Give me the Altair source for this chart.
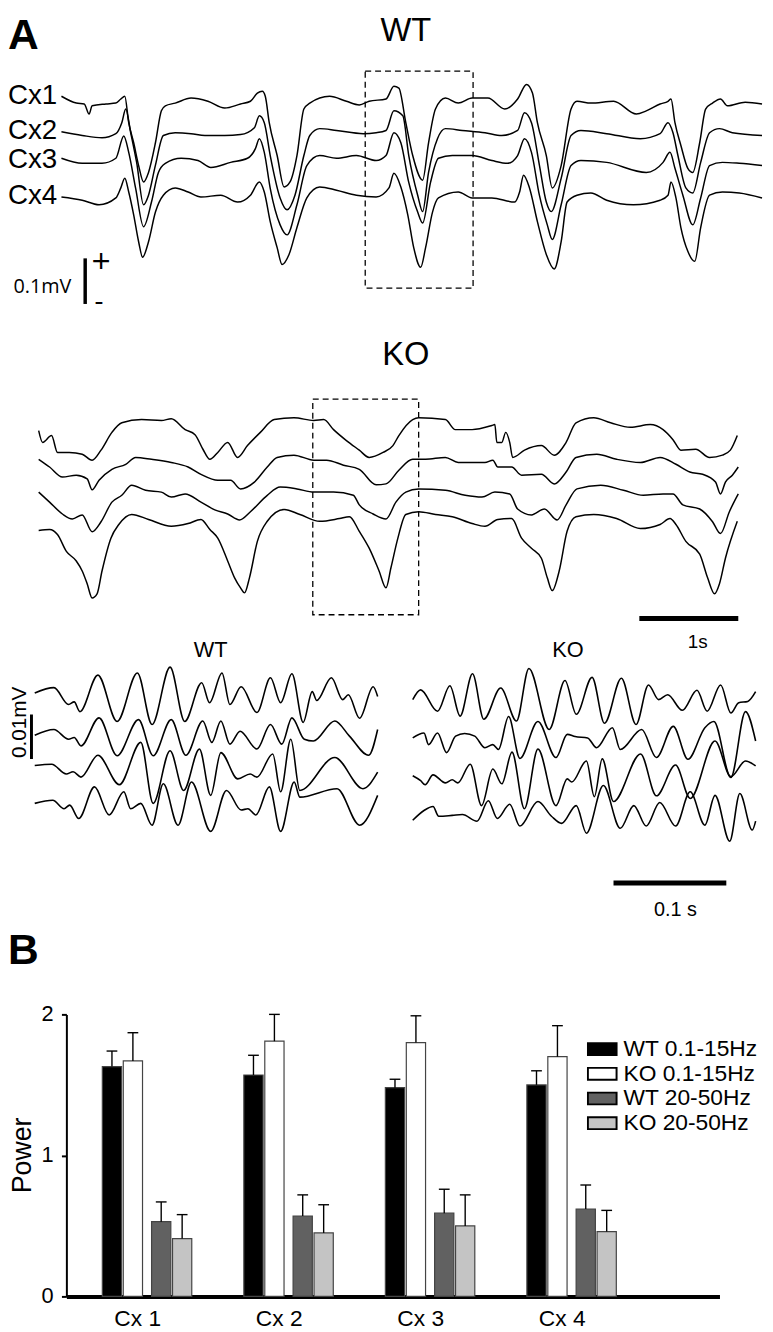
import altair as alt
import pandas as pd

FONT = "Liberation Sans"
FONT2 = "Open Sans"

# ---------------------------------------------------------------- data
channels = ["Cx1", "Cx2", "Cx3", "Cx4"]

# WT overview traces: time (ms) and potential (uV, relative to channel baseline)
wt_cx1_t = [0, 150, 230, 280, 310, 450, 550, 600, 640, 680, 730, 780, 830, 880, 950, 1010, 1050, 1150, 1310, 1480,
            1650, 1810, 1910, 1980, 2030, 2060, 2100, 2180, 2250, 2310, 2380, 2450, 2510, 2710, 2880, 3010, 3110, 3280,
            3360, 3410, 3480, 3550, 3650, 3710, 3780, 3880, 4010, 4150, 4310, 4480, 4610, 4700, 4760, 4810, 4900, 4960,
            5050, 5150, 5210, 5350, 5580, 5810, 5910, 6050, 6130, 6160, 6200, 6260, 6330, 6380, 6450, 6510, 6580, 6660,
            6730, 6910, 7080]
wt_cx1_v = [4, -11, -13, -35, -17, -13, -11, -2, 4, -54, -98, -148, -184, -163, -98, -28, -17, -11, 0, -7,
            -22, -13, -7, 11, 15, 4, -54, -126, -195, -184, -126, -24, -11, 4, -7, -15, -7, -2,
            26, 22, -54, -126, -180, -98, -24, 0, -11, 0, 0, -24, -2, 30, 11, -54, -126, -197,
            -148, -24, -7, -11, -7, -35, -28, -13, -7, -2, -54, -104, -154, -163, -98, -24, -11, -2,
            -17, -9, -13]
wt_cx2_t = [0, 210, 410, 550, 610, 650, 700, 760, 830, 880, 950, 1030, 1150, 1310, 1450, 1650, 1810, 1950, 2000, 2050,
            2110, 2210, 2280, 2360, 2450, 2510, 2610, 2780, 3050, 3180, 3280, 3360, 3450, 3510, 3600, 3650, 3710, 3800,
            3880, 4050, 4280, 4450, 4610, 4680, 4750, 4830, 4900, 4950, 5050, 5150, 5250, 5510, 5850, 6050, 6130, 6180,
            6230, 6310, 6380, 6460, 6550, 6650, 6780, 7080]
wt_cx2_v = [4, -4, -9, 0, 24, 54, 2, -63, -156, -135, -69, -4, 2, 0, -4, -4, -2, 13, 39, 24,
            -48, -141, -167, -135, -48, -4, 11, 7, 0, 2, 7, 50, 39, -48, -135, -171, -85, -11,
            11, 7, 2, -4, 7, 46, 24, -69, -150, -171, -98, -4, 7, 0, -11, 0, 24, 2,
            -48, -119, -130, -63, 2, 11, 2, -4]
wt_cx3_t = [0, 210, 410, 550, 630, 680, 750, 830, 910, 980, 1050, 1210, 1380, 1510, 1710, 1880, 1960, 2000, 2050, 2110,
            2210, 2280, 2380, 2480, 2610, 2780, 2980, 3180, 3280, 3360, 3430, 3510, 3600, 3650, 3730, 3810, 3950, 4150,
            4350, 4510, 4610, 4680, 4750, 4830, 4910, 4960, 5050, 5150, 5250, 5510, 5910, 6080, 6150, 6200, 6280, 6380,
            6460, 6550, 6680, 6850, 7080]
wt_cx3_v = [7, -4, -4, 7, 56, 20, -59, -143, -89, -24, -4, 7, 2, -13, -2, 7, 28, 50, 20, -59,
            -139, -161, -95, -9, 13, 7, 13, 2, 13, 63, 41, -46, -111, -135, -46, 7, 13, 13,
            2, -4, 13, 50, 20, -74, -139, -171, -95, -9, 2, -2, -24, -2, 20, -15, -74, -139,
            -80, -9, -2, -4, -9]
wt_cx4_t = [0, 210, 380, 550, 600, 640, 680, 730, 780, 820, 880, 950, 1030, 1150, 1280, 1410, 1610, 1780, 1910, 2000,
            2050, 2110, 2180, 2230, 2300, 2380, 2480, 2610, 2780, 2980, 3180, 3310, 3360, 3430, 3500, 3560, 3630, 3680,
            3750, 3810, 4010, 4150, 4350, 4580, 4630, 4670, 4730, 4810, 4900, 4980, 5050, 5110, 5210, 5350, 5510, 5780,
            6050, 6130, 6160, 6210, 6260, 6330, 6400, 6460, 6550, 6680, 6850, 7080]
wt_cx4_v = [0, -7, -17, -2, 20, 41, 11, -39, -98, -132, -98, -33, 4, 20, 11, 0, 4, -11, 4, 33,
            11, -54, -111, -148, -126, -67, -2, 22, 15, 4, 0, 20, 52, 22, -39, -111, -154, -111,
            -33, -2, 11, -2, -2, -11, 11, 48, 20, -54, -126, -158, -98, -11, 4, 9, -7, -17,
            -7, 4, 33, -2, -67, -119, -141, -67, 4, 11, 9, -2]

# KO overview traces
ko_cx1_t = [0, 40, 130, 190, 310, 440, 540, 630, 740, 840, 1040, 1240, 1340, 1480, 1580, 1660, 1730, 1810, 1910, 2010,
            2110, 2240, 2380, 2580, 2780, 2880, 2980, 3110, 3240, 3340, 3480, 3580, 3640, 3780, 3840, 4110, 4210, 4380,
            4580, 4610, 4630, 4680, 4720, 4760, 4790, 4910, 5080, 5210, 5330, 5430, 5610, 5780, 5980, 6180, 6310, 6410,
            6490, 6640, 6780, 6910, 6990, 7060]
ko_cx1_v = [0, -26, -11, -48, -48, -52, -65, -43, -4, 17, 24, 22, 26, 2, -9, -41, -63, -48, -26, -59,
            -33, -4, 24, 28, 22, 24, 2, -22, -43, -59, -48, -33, -11, 24, 28, 24, 2, 2,
            11, 13, -26, -26, -4, -26, -59, -43, -33, -54, -26, 17, 28, 17, 7, 13, 2, -20,
            -43, -41, -59, -54, -43, -11]
ko_cx2_t = [0, 110, 240, 380, 490, 540, 610, 740, 880, 980, 1140, 1340, 1510, 1640, 1810, 1940, 2040, 2180, 2310, 2410,
            2580, 2780, 2910, 3080, 3240, 3410, 3510, 3640, 3780, 3910, 4110, 4240, 4510, 4590, 4640, 4780, 4880, 5080,
            5210, 5330, 5430, 5640, 5840, 6080, 6280, 6440, 6580, 6710, 6840, 6890, 6940, 7010, 7070]
ko_cx2_v = [0, -17, -39, -35, -43, -67, -46, -22, -11, 4, 0, -7, -17, -33, -46, -46, -65, -50, -17, 4,
            9, -2, -2, -13, -22, -56, -54, -24, 0, 0, 4, -7, -7, -2, -17, -17, -35, -33,
            -54, -28, 4, 11, 0, -7, 4, -11, -28, -33, -50, -76, -50, -35, -17]
ko_cx3_t = [0, 110, 240, 340, 440, 540, 630, 740, 840, 940, 1080, 1240, 1340, 1480, 1640, 1780, 1910, 2030, 2140, 2310,
            2440, 2610, 2780, 2980, 3180, 3240, 3380, 3510, 3610, 3710, 3840, 4110, 4310, 4480, 4610, 4760, 4840, 4980,
            5110, 5240, 5330, 5440, 5680, 5910, 6110, 6310, 6410, 6510, 6680, 6810, 6890, 6980, 7070]
ko_cx3_v = [0, -22, -48, -59, -50, -87, -65, -22, -7, 15, 4, 0, -11, -4, -22, -39, -48, -61, -43, -7,
            11, 7, 0, 0, -7, -28, -48, -59, -22, 0, 7, 4, -7, -11, 0, -4, -37, -50,
            -37, -61, -28, 7, 15, 4, -7, -4, -4, -28, -37, -65, -91, -43, -4]
ko_cx4_t = [0, 110, 190, 280, 380, 440, 490, 540, 590, 640, 730, 810, 940, 1110, 1340, 1510, 1640, 1730, 1810, 1910,
            1980, 2040, 2080, 2130, 2210, 2310, 2480, 2640, 2840, 3040, 3140, 3240, 3340, 3440, 3510, 3560, 3630, 3710,
            3840, 4010, 4180, 4380, 4510, 4640, 4780, 4880, 4980, 5080, 5140, 5190, 5260, 5340, 5430, 5610, 5840, 6080,
            6280, 6380, 6440, 6540, 6680, 6760, 6830, 6880, 6940, 7060]
ko_cx4_v = [0, 2, -9, -46, -67, -89, -117, -148, -139, -89, -17, 13, 35, 24, 9, 15, 24, 2, -17, -67,
            -104, -126, -137, -104, -24, 20, 46, 35, 20, 26, 30, -2, -39, -89, -126, -82, -17, 35,
            41, 35, 30, 15, 9, 24, 26, -17, -39, -61, -104, -132, -89, -2, 30, 35, 26, 4,
            13, 26, 13, -24, -52, -104, -139, -117, -61, 20]

# filtered (20-50 Hz) excerpts: time (ms), potential (uV)
wtz1_t = [0, 17, 30, 35, 40, 56, 73, 91, 104, 120, 133, 148, 155, 166, 173, 183, 197, 209, 218, 228, 238, 246, 250, 263,
          273, 278, 288, 300, 304]
wtz1_v = [0.4, 1.6, -2.2, -1.6, -3.8, 4.4, -6.0, 4.9, -6.7, 6.2, -6.0, 2.7, -1.8, 4.9, -2.2, 1.8, -4.0, 3.8, -1.8, 4.7,
          -6.2, 0.7, -1.3, 3.8, -1.1, 0.0, -5.3, 1.8, -0.4]
wtz2_t = [0, 17, 30, 35, 41, 57, 73, 92, 105, 121, 134, 149, 157, 165, 173, 182, 197, 209, 219, 228, 239, 247, 266, 279,
          296, 304]
wtz2_v = [-1.1, 0.2, -2.0, -1.6, -3.5, 2.8, -5.7, 2.4, -5.7, 2.4, -5.6, 2.1, -2.7, 2.1, -3.1, -0.2, -4.2, 1.3, -3.1, 2.8,
          -2.0, -2.4, 2.1, -1.3, -5.6, 0.2]
wtz3_t = [0, 15, 28, 34, 41, 56, 75, 94, 105, 120, 132, 146, 156, 165, 180, 191, 197, 211, 218, 227, 235, 266, 291, 304]
wtz3_v = [0.1, 0.4, -1.8, -1.3, -2.5, 2.4, -4.2, 5.3, -8.4, 3.4, -5.5, 3.8, -6.6, 3.0, -2.9, -1.8, -2.5, 2.7, -5.8, 6.0,
          -5.5, 1.9, -5.1, -1.4]
wtz4_t = [0, 16, 26, 31, 39, 53, 66, 79, 85, 94, 104, 114, 127, 139, 156, 170, 183, 189, 196, 208, 218, 230, 235, 268,
          288, 304]
wtz4_v = [-0.4, 0.3, -1.6, -0.8, -3.8, 3.3, -3.0, 2.2, -1.6, -0.4, -5.3, 4.0, -5.3, 4.4, -6.7, 2.5, -1.9, -1.6, -3.0, 3.3,
          -6.7, 4.4, 1.0, 2.9, -5.3, 1.4]
koz1_t = [0, 7, 22, 33, 42, 53, 63, 78, 92, 103, 121, 135, 145, 159, 170, 185, 198, 209, 218, 226, 239, 252, 261, 273,
          282, 289, 297, 304]
koz1_v = [0, 2.2, -2.6, 3.1, -3.7, 5.8, -4.4, 2.6, -4.8, 7.0, -6.7, 4.3, -3.3, 5.0, -5.3, 4.8, -5.6, 3.3, 0, 1.1,
          -2.4, 2.1, -2.6, 3.3, -3.0, -0.7, -0.4, 1.8]
koz2_t = [0, 10, 14, 22, 30, 38, 46, 55, 64, 71, 76, 85, 95, 111, 127, 137, 144, 155, 163, 177, 184, 203, 216, 231,
          244, 259, 267, 282, 295, 304]
koz2_v = [-0.1, 1.0, -1.6, 1.0, -3.4, 0.3, 0.9, 0.3, -2.3, -1.6, -2.7, 4.7, -4.7, 3.6, -4.5, 0.7, 0.2, -0.1, -2.3, 2.2,
          -2.7, 1.8, -4.5, 2.5, -4.9, 2.2, 3.6, -9.0, 5.8, -0.8]
koz3_t = [0, 7, 11, 18, 29, 35, 40, 51, 61, 71, 79, 88, 99, 111, 127, 137, 141, 154, 161, 168, 178, 202, 216, 233,
          246, 268, 282, 295, 304]
koz3_v = [-0.2, -1.3, -2.2, 0, -1.8, -1.1, -1.8, 2.4, -6.9, 1.3, -2.0, 5.1, -7.6, 5.8, -6.9, -0.9, -1.6, 3.1, -4.9, 3.6,
          -6.0, 4.7, -4.7, 2.2, -5.3, 7.6, -0.4, 3.1, 2.0]
koz4_t = [0, 10, 18, 23, 35, 44, 57, 67, 75, 86, 95, 111, 123, 132, 145, 154, 169, 184, 196, 207, 219, 233, 246, 259,
          268, 281, 290, 301, 304]
koz4_v = [0, 2.2, 3.1, 0.9, 1.1, 1.3, -0.2, 4.4, 0.4, 3.6, -1.3, 4.2, 0.9, -0.7, 3.3, -2.9, 7.8, -1.8, 3.3, -1.3,
          4.0, -1.3, 6.4, -1.1, 5.6, -4.7, 6.0, -2.2, -0.2]

# panel B: power per region
regions = ["Cx 1", "Cx 2", "Cx 3", "Cx 4"]
series = ["WT 0.1-15Hz", "KO 0.1-15Hz", "WT 20-50Hz", "KO 20-50Hz"]
wt_low_mean = [1.63, 1.57, 1.48, 1.50]
wt_low_sem = [0.11, 0.14, 0.06, 0.10]
ko_low_mean = [1.67, 1.81, 1.80, 1.70]
ko_low_sem = [0.20, 0.19, 0.19, 0.22]
wt_high_mean = [0.53, 0.57, 0.59, 0.62]
wt_high_sem = [0.14, 0.15, 0.17, 0.17]
ko_high_mean = [0.41, 0.45, 0.50, 0.46]
ko_high_sem = [0.17, 0.20, 0.22, 0.15]
power_ticks = [0, 1, 2]

# ---------------------------------------------------------------- layout / style
W = 765
WT_OFFSETS = [0, -78, -139, -217]
KO_OFFSETS = [0, -63, -135, -219]
WTZ_OFFSETS = [0, -8, -16, -24]
KOZ_OFFSETS = [-1.1, -9.6, -18, -28.2]
WT_LABEL_Y = [4, -72, -135, -215]

WT_XD, WT_YD = [-540, 7110], [-462.2, 182.3]
KO_XD, KO_YD = [-310, 7340], [-438.4, 266.9]
WTZ_XD, KOZ_XD, Z_YD = [-23.7, 647.4], [-358.8, 312.3], [-71.8, 14.44]

BAR_OFFSETS = [-0.248, -0.1, 0.1, 0.248]
BAR_HALF = 0.068
CAP_HALF = 0.038
BAR_COLORS = ["#000000", "#ffffff", "#616161", "#c4c4c4"]


def traces(names, ts, vs, offsets):
    rows = []
    for name, t, v, off in zip(names, ts, vs, offsets):
        if len(t) != len(v):
            raise ValueError(f"{name}: {len(t)} times vs {len(v)} values")
        for i in range(len(t)):
            rows.append({"ch": name, "i": i, "t": t[i], "y": v[i] + off})
    return pd.DataFrame(rows)


def qx(domain, field="t"):
    return alt.X(f"{field}:Q", scale=alt.Scale(domain=domain, nice=False, zero=False), axis=None)


def qy(domain, field="y"):
    return alt.Y(f"{field}:Q", scale=alt.Scale(domain=domain, nice=False, zero=False), axis=None)


def label(text, t, y, xd, yd, **mark):
    df = pd.DataFrame({"label": [text], "t": [t], "y": [y]})
    props = dict(font=FONT, color="black")
    props.update(mark)
    return alt.Chart(df).mark_text(**props).encode(x=qx(xd), y=qy(yd), text="label:N")


def line_layer(df, xd, yd, width, interp="linear"):
    return alt.Chart(df).mark_line(color="black", strokeWidth=width, interpolate=interp).encode(
        x=qx(xd), y=qy(yd), detail="ch:N", order="i:Q")


def box(t, t2, y, y2, xd, yd):
    df = pd.DataFrame({"t": [t], "t2": [t2], "y": [y], "y2": [y2]})
    return alt.Chart(df).mark_rect(fillOpacity=0, stroke="black", strokeWidth=1.3, strokeDash=[6, 4]).encode(
        x=qx(xd), x2="t2", y=qy(yd), y2="y2")


def vbar(t, y, y2, xd, yd, width):
    df = pd.DataFrame({"t": [t], "y": [y], "y2": [y2]})
    return alt.Chart(df).mark_rule(color="black", strokeWidth=width).encode(x=qx(xd), y=qy(yd), y2="y2")


def hbar(t, t2, y, xd, yd, width):
    df = pd.DataFrame({"t": [t], "t2": [t2], "y": [y]})
    return alt.Chart(df).mark_rule(color="black", strokeWidth=width).encode(x=qx(xd), x2="t2", y=qy(yd))


# ---------------------------------------------------------------- panel A, WT overview
wt_df = traces(channels, [wt_cx1_t, wt_cx2_t, wt_cx3_t, wt_cx4_t], [wt_cx1_v, wt_cx2_v, wt_cx3_v, wt_cx4_v],
               WT_OFFSETS)
wt_labels = alt.Chart(pd.DataFrame({"label": channels, "t": [WT_XD[0]] * 4, "y": WT_LABEL_Y})).mark_text(
    font=FONT, fontSize=28, align="left", baseline="middle", color="black").encode(
    x=qx(WT_XD), y=qy(WT_YD), text="label:N")

p1 = alt.layer(
    line_layer(wt_df, WT_XD, WT_YD, 1.5, "monotone"),
    wt_labels,
    label("A", WT_XD[0], 107.4, WT_XD, WT_YD, fontSize=43, fontWeight="bold", align="left", baseline="alphabetic"),
    label("WT", 3480, 125, WT_XD, WT_YD, fontSize=33, align="center", baseline="alphabetic"),
    box(3070, 4160, 59, -417, WT_XD, WT_YD),
    vbar(240, -351.5, -451.5, WT_XD, WT_YD, 3.5),
    label("+", 400, -362, WT_XD, WT_YD, font=FONT2, fontSize=34, align="center", baseline="middle"),
    label("-", 380, -447, WT_XD, WT_YD, font=FONT2, fontSize=28, align="center", baseline="middle"),
    label("0.1mV", 100, -414.5, WT_XD, WT_YD, font=FONT2, fontSize=20, align="right", baseline="middle"),
).properties(width=W, height=297)

# ---------------------------------------------------------------- panel A, KO overview
ko_df = traces(channels, [ko_cx1_t, ko_cx2_t, ko_cx3_t, ko_cx4_t], [ko_cx1_v, ko_cx2_v, ko_cx3_v, ko_cx4_v],
               KO_OFFSETS)
p2 = alt.layer(
    line_layer(ko_df, KO_XD, KO_YD, 1.5, "monotone"),
    label("KO", 3710, 143, KO_XD, KO_YD, fontSize=33, align="center", baseline="alphabetic"),
    box(2770, 3840, 69, -404, KO_XD, KO_YD),
    hbar(6070, 7070, -412, KO_XD, KO_YD, 5),
    label("1s", 6660, -477.4, KO_XD, KO_YD, fontSize=19, align="center", baseline="alphabetic"),
).properties(width=W, height=325)

# ---------------------------------------------------------------- panel A, filtered excerpts
wtz_df = traces(channels, [wtz1_t, wtz2_t, wtz3_t, wtz4_t], [wtz1_v, wtz2_v, wtz3_v, wtz4_v], WTZ_OFFSETS)
koz_df = traces(channels, [koz1_t, koz2_t, koz3_t, koz4_t], [koz1_v, koz2_v, koz3_v, koz4_v], KOZ_OFFSETS)

wtz_group = alt.layer(
    line_layer(wtz_df, WTZ_XD, Z_YD, 1.6, "monotone"),
    label("WT", 156, 8.4, WTZ_XD, Z_YD, fontSize=22, align="center", baseline="alphabetic"),
    vbar(-2.9, -4.44, -14.44, WTZ_XD, Z_YD, 3),
    label("0.01mV", -13, -6.2, WTZ_XD, Z_YD, fontSize=21, angle=270, align="center", baseline="middle"),
)
koz_group = alt.layer(
    line_layer(koz_df, KOZ_XD, Z_YD, 1.6, "monotone"),
    label("KO", 137.7, 8.4, KOZ_XD, Z_YD, fontSize=22, align="center", baseline="alphabetic"),
    hbar(178, 278, -42.3, KOZ_XD, Z_YD, 5),
    label("0.1 s", 233, -49.8, KOZ_XD, Z_YD, fontSize=20, align="center", baseline="alphabetic"),
)
p3 = alt.layer(wtz_group, koz_group).resolve_scale(x="independent").properties(width=W, height=388)

# ---------------------------------------------------------------- panel B
means = [wt_low_mean, ko_low_mean, wt_high_mean, ko_high_mean]
sems = [wt_low_sem, ko_low_sem, wt_high_sem, ko_high_sem]
rows = []
for ri, reg in enumerate(regions):
    for si, s in enumerate(series):
        xc = ri + 1 + BAR_OFFSETS[si]
        m, e = means[si][ri], sems[si][ri]
        rows.append(dict(region=reg, series=s, xc=xc, x0=xc - BAR_HALF, x1=xc + BAR_HALF,
                         c0=xc - CAP_HALF, c1=xc + CAP_HALF, mean=m, top=m + e, zero=0))
bar_df = pd.DataFrame(rows)

label_expr = "[" + ",".join(f"'{r}'" for r in regions) + "][datum.value - 1]"
x_axis = alt.Axis(values=[1, 2, 3, 4], labelExpr=label_expr, ticks=False, grid=False, domainColor="black",
                  domainWidth=4, labelFontSize=23, labelFont=FONT, labelColor="black", labelPadding=11,
                  labelOffset=-10, labelFlush=False, labelOverlap=False, title=None)
y_axis = alt.Axis(values=power_ticks, grid=False, domainColor="black", domainWidth=2, labels=False,
                  tickColor="black", tickWidth=2, tickSize=5, title=None, offset=-59)
x_scale = alt.Scale(domain=[0.43, 5.045], range=[59, 719], nice=False, zero=False)
y_scale = alt.Scale(domain=[0, 2], nice=False, zero=False)

legend = alt.Legend(title=None, orient="none", legendX=585, legendY=24,
                    symbolType="M-1,-0.41L1,-0.41L1,0.41L-1,0.41Z", symbolSize=841,
                    symbolStrokeColor="black", symbolStrokeWidth=2, symbolOpacity=1,
                    labelFontSize=23, labelFont=FONT, labelColor="black", labelOffset=6, labelLimit=300,
                    clipHeight=22, rowPadding=2, padding=0)

bars = alt.Chart(bar_df).mark_bar(stroke="#444444", strokeWidth=1.2).encode(
    x=alt.X("x0:Q", scale=x_scale, axis=x_axis), x2="x1",
    y=alt.Y("mean:Q", scale=y_scale, axis=y_axis), y2="zero",
    fill=alt.Fill("series:N", scale=alt.Scale(domain=series, range=BAR_COLORS), legend=legend),
)
err = alt.Chart(bar_df).mark_rule(color="black", strokeWidth=1.4).encode(
    x=alt.X("xc:Q", scale=x_scale, axis=x_axis),
    y=alt.Y("mean:Q", scale=y_scale, axis=y_axis), y2="top")
caps = alt.Chart(bar_df).mark_rule(color="black", strokeWidth=1.4).encode(
    x=alt.X("c0:Q", scale=x_scale, axis=x_axis), x2="c1",
    y=alt.Y("top:Q", scale=y_scale, axis=y_axis))
tick_labels = alt.Chart(pd.DataFrame({"v": power_ticks})).mark_text(
    font=FONT, fontSize=22, align="right", baseline="middle", color="black").encode(
    x=alt.value(46), y=alt.Y("v:Q", scale=y_scale, axis=y_axis), text=alt.Text("v:Q", format="d"))
power_title = alt.Chart(pd.DataFrame({"label": ["Power"]})).mark_text(
    font=FONT, fontSize=27, angle=270, align="center", baseline="middle", color="black").encode(
    x=alt.value(15), y=alt.value(142.5), text="label:N")
letter_b = alt.Chart(pd.DataFrame({"label": ["B"]})).mark_text(
    font=FONT, fontSize=43, fontWeight="bold", align="left", baseline="alphabetic", color="black").encode(
    x=alt.value(0), y=alt.value(-51), text="label:N")

p4 = alt.layer(bars, err, caps, tick_labels, power_title, letter_b).properties(width=W, height=285)

chart = alt.vconcat(p1, p2, p3, p4, spacing=0, bounds="flush").resolve_legend(
    fill="independent").properties(padding=0).configure(font=FONT, view=alt.ViewConfig(stroke=None))

chart.save("out.html", embed_options={"renderer": "svg", "actions": False})
